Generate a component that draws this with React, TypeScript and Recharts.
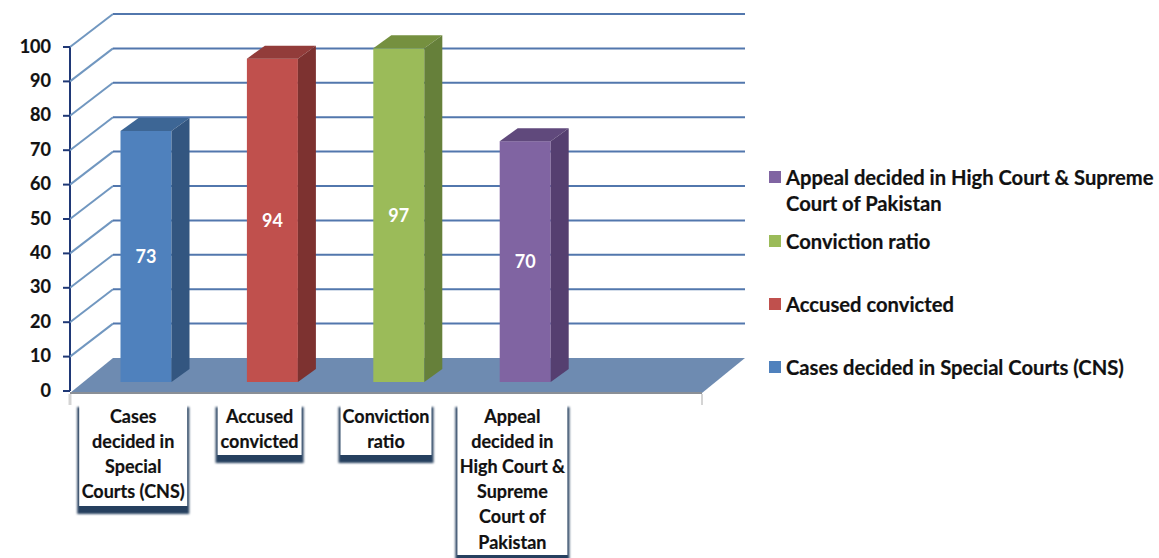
import { BarChart, Bar, XAxis, YAxis, Cell, LabelList } from 'recharts'

const categories = [
  'Cases decided in Special Courts (CNS)',
  'Accused convicted',
  'Conviction ratio',
  'Appeal decided in High Court & Supreme Court of Pakistan',
  '',
]
const values = [73, 94, 97, 70, null]
const yTicks = [0, 10, 20, 30, 40, 50, 60, 70, 80, 90, 100]

// how the axis labels break inside their boxes
const categoryLines = [
  ['Cases', 'decided in', 'Special', 'Courts (CNS)'],
  ['Accused', 'convicted'],
  ['Conviction', 'ratio'],
  ['Appeal', 'decided in', 'High Court &', 'Supreme', 'Court of', 'Pakistan'],
  [],
]
const boxWidths = [108, 84, 91, 110, 0]

const faceColors = ['#4f81bd', '#c0504d', '#9bbb59', '#8064a2']
const topColors = ['#3d6695', '#923c3a', '#75903f', '#60497c']
const sideColors = ['#335680', '#7d3230', '#66803a', '#553f70']

const chartData = categories.map((name, i) => ({ name, value: values[i] }))

const FONT = 'Lato, "Open Sans", sans-serif'
const AXIS_X = 70
const RIGHT_X = 702
const WALL_DX = 43
const WALL_DY = -33
const BAR_DX = 12.5
const BAR_DY = -9
const DEPTH_X = 18
const DEPTH_Y = -13
const CHART_W = 1159
const CHART_H = 558
const overlay = { position: 'absolute', left: 0, top: 0 } as const

function Cuboid({ x, y, width, height, index }: any) {
  if (!height) return null
  const l = x + BAR_DX
  const r = l + width
  const t = y + BAR_DY
  const b = t + height
  return (
    <g>
      <rect x={l} y={t} width={width} height={height} fill={faceColors[index]} />
      <polygon
        points={`${l},${t} ${r},${t} ${r + DEPTH_X},${t + DEPTH_Y} ${l + DEPTH_X},${t + DEPTH_Y}`}
        fill={topColors[index]}
      />
      <polygon
        points={`${r},${t} ${r + DEPTH_X},${t + DEPTH_Y} ${r + DEPTH_X},${b + DEPTH_Y} ${r},${b}`}
        fill={sideColors[index]}
      />
    </g>
  )
}

function WallTick({ y, payload }: any) {
  const backY = y + WALL_DY
  const isZero = payload.value === 0
  return (
    <g>
      {isZero ? (
        <>
          <polygon
            points={`${AXIS_X},${y + 2} ${AXIS_X + WALL_DX},${backY} ${RIGHT_X + WALL_DX},${backY} ${RIGHT_X},${y + 2}`}
            fill="#6e8bb1"
          />
          <line x1={AXIS_X} x2={RIGHT_X} y1={y + 2} y2={y + 2} stroke="#8a8f96" strokeWidth={2} />
          <line x1={AXIS_X} x2={AXIS_X} y1={y + 3} y2={y + 14} stroke="#d4d4d4" strokeWidth={3} />
          <line x1={RIGHT_X} x2={RIGHT_X} y1={y + 3} y2={y + 14} stroke="#d4d4d4" strokeWidth={2} />
        </>
      ) : (
        <>
          <line x1={AXIS_X} x2={AXIS_X + WALL_DX} y1={y} y2={backY} stroke="#7197c0" strokeWidth={2} />
          <line x1={AXIS_X + WALL_DX} x2={RIGHT_X + WALL_DX} y1={backY} y2={backY} stroke="#5277ad" strokeWidth={2} />
        </>
      )}
      <line x1={AXIS_X - 7} x2={AXIS_X} y1={y} y2={y} stroke="#1f3876" strokeWidth={2} />
      <text
        x={51}
        y={y + 1}
        textAnchor="end"
        dominantBaseline="middle"
        fontFamily={FONT}
        fontWeight={700}
        fontSize={18}
        fill="#111"
        stroke="#111"
        strokeWidth={0.2}
      >
        {payload.value}
      </text>
    </g>
  )
}

function LabelBox({ x, index }: any) {
  const lines = categoryLines[index]
  if (!lines || !lines.length) return null
  const w = boxWidths[index]
  const left = x - w / 2
  const top = 407
  const h = lines.length * 25 - 2 + (lines.length === 4 ? 1 : 0)
  return (
    <g>
      <rect
        x={left - 2}
        y={top}
        width={w + 4}
        height={h + 8}
        fill="#26405f"
        style={{ filter: 'blur(1px)' }}
      />
      <rect x={left} y={top - 4} width={w} height={h + 4} fill="#fff" />
      {lines.map((line: string, i: number) => (
        <text
          key={line}
          x={x}
          y={418 + i * 25.2}
          textAnchor="middle"
          dominantBaseline="middle"
          fontFamily={FONT}
          fontWeight={700}
          fontSize={18}
          fill="#111"
          stroke="#111"
          strokeWidth={0.2}
        >
          {line}
        </text>
      ))}
    </g>
  )
}

function SideLegend() {
  // legend reads bottom-up compared with the categories
  const order = [3, 2, 1, 0]
  return (
    <div
      style={{
        position: 'absolute',
        left: 769,
        top: 164,
        width: 390,
        display: 'flex',
        flexDirection: 'column',
        gap: 37,
        fontFamily: FONT,
        fontWeight: 700,
        fontSize: 20.2,
        lineHeight: '26px',
        color: '#111',
        WebkitTextStroke: '0.2px #111',
      }}
    >
      {order.map((i, pos) => (
        <div key={i} style={{ position: 'relative', paddingLeft: 17, marginBottom: pos === 0 ? -25 : 0 }}>
          <span
            style={{
              position: 'absolute',
              left: 0,
              top: 7,
              width: 12,
              height: 12,
              background: faceColors[i],
            }}
          />
          {categories[i]}
        </div>
      ))}
    </div>
  )
}

export default function App() {
  return (
    <div style={{ position: 'fixed', left: 0, top: 0, width: CHART_W, height: CHART_H, background: '#fff', overflow: 'hidden' }}>
      {/* wall and floor sit in their own chart so the bars always paint on top */}
      <div style={overlay}>
        <BarChart
          width={CHART_W}
          height={CHART_H}
          data={chartData}
          margin={{ top: 47, right: 457, bottom: 167, left: 0 }}
        >
          <XAxis dataKey="name" hide />
          <YAxis
            width={70}
            domain={[0, 100]}
            ticks={yTicks}
            interval={0}
            axisLine={{ stroke: '#1f3876', strokeWidth: 2 }}
            tickLine={false}
            tick={<WallTick />}
          />
          <Bar dataKey="value" fill="none" isAnimationActive={false} />
        </BarChart>
      </div>
      <div style={overlay}>
        <BarChart
          width={CHART_W}
          height={CHART_H}
          data={chartData}
          margin={{ top: 47, right: 457, bottom: 0, left: 70 }}
          barCategoryGap={0}
        >
          <YAxis hide domain={[0, 100]} />
          <XAxis
            dataKey="name"
            height={167}
            interval={0}
            axisLine={false}
            tickLine={false}
            tick={<LabelBox />}
          />
          <Bar dataKey="value" barSize={51} shape={<Cuboid />} isAnimationActive={false}>
            {chartData.map((d, i) => (
              <Cell key={i} fill={faceColors[i % faceColors.length]} />
            ))}
            <LabelList
              dataKey="value"
              position="center"
              fill="#fff"
              fontFamily={FONT}
              fontWeight={700}
              fontSize={18}
              dx={BAR_DX}
              dy={BAR_DY}
            />
          </Bar>
        </BarChart>
      </div>
      <SideLegend />
    </div>
  )
}
